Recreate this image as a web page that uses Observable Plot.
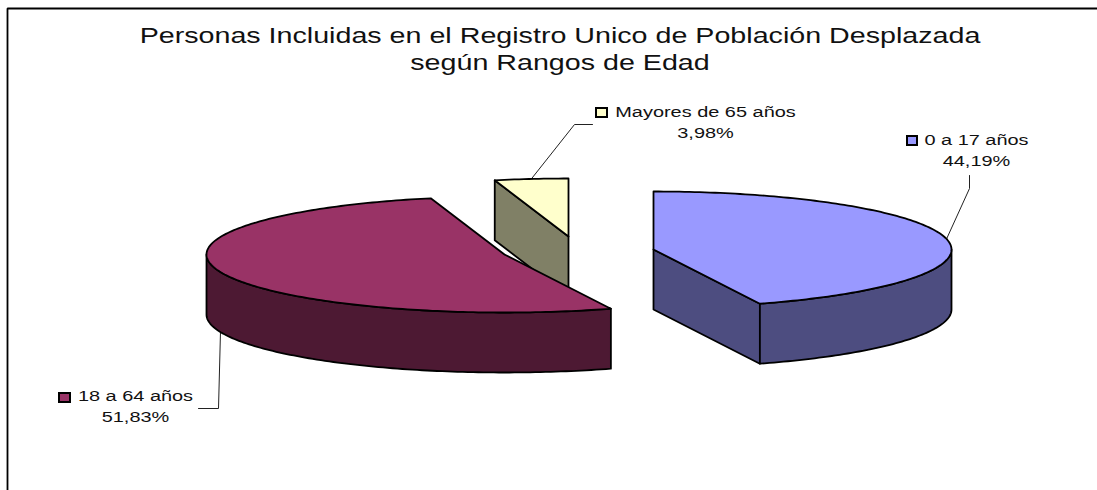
<!DOCTYPE html>
<html>
<head>
<meta charset="utf-8">
<script src="https://cdn.jsdelivr.net/npm/d3@7"></script>
<script src="https://cdn.jsdelivr.net/npm/@observablehq/plot@0.6"></script>
<style>
html,body{margin:0;padding:0;background:#fff}
svg{display:block}
</style>
</head>
<body>
<div id="chart"></div>
<script>
// Data
const categories = ["0 a 17 años", "18 a 64 años", "Mayores de 65 años"];
const shares = [44.19, 51.83, 3.98];
const shareLabels = ["44,19%", "51,83%", "3,98%"];
const titleLines = ["Personas Incluidas en el Registro Unico de Población Desplazada", "según Rangos de Edad"];

// Styles
const topColors = ["#9999FF", "#993366", "#FFFFCC"];
const wallColors = ["#4D4D80", "#4D1933", "#808066"];

// Layout of the exploded pie (plot units = pixels)
const W = 1097, H = 490;
const RX = 298, RY = 58, DEPTH = 60;
const centers = [[653, 249], [504, 254], [568, 236]];
const drawOrder = [2, 1, 0];
// leader elbows and label anchors per category
const elbows = [[[969, 188], [969, 175]], [[218, 408], [198, 408]], [[574, 124], [592, 124]]];
const labelAnchors = [[976, 140], [135, 396], [705, 112]];
const keyBoxes = [[907, 136, 917, 145], [59, 393, 70, 402], [596, 108, 607, 117]];
const labelLineGap = 21;
const labelStretch = 1.285, titleStretch = 1.302; // the reference's type is wider than it is tall

// Slice angles, clockwise from 12 o'clock
const total = d3.sum(shares);
let acc = 0;
const slices = shares.map((s, i) => {
  const a0 = acc / total * 2 * Math.PI;
  acc += s;
  const a1 = acc / total * 2 * Math.PI;
  return {i, a0, a1, c: centers[i]};
});
const at = (s, a, dz = 0) => ({
  x: s.c[0] + RX * Math.sin(a),
  y: s.c[1] - RY * Math.cos(a) + dz
});
const arc = (s, a0, a1, dz = 0) => {
  const n = Math.max(2, Math.ceil(Math.abs(a1 - a0) / (Math.PI / 180)));
  return d3.range(n + 1).map(k => at(s, a0 + (a1 - a0) * k / n, dz));
};
const hub = (s, dz = 0) => ({x: s.c[0], y: s.c[1] + dz});
const close = pts => [...pts, pts[0]];

const polys = [];
for (const k of drawOrder) {
  const s = slices[k];
  const fl = Math.PI / 2, fr = 3 * Math.PI / 2;
  // visible cut faces
  if (s.a1 > 0 && Math.sin(s.a1) > 0 && s.a1 < Math.PI) {
    polys.push({fill: wallColors[k], pts: close([hub(s), at(s, s.a1), at(s, s.a1, DEPTH), hub(s, DEPTH)])});
  }
  if (Math.sin(s.a0) < 0) {
    polys.push({fill: wallColors[k], pts: close([hub(s), at(s, s.a0), at(s, s.a0, DEPTH), hub(s, DEPTH)])});
  }
  // outer wall: the arc part on the front half
  const w0 = Math.max(s.a0, fl), w1 = Math.min(s.a1, fr);
  if (w1 > w0) {
    polys.push({fill: wallColors[k], pts: close([...arc(s, w0, w1), ...arc(s, w1, w0, DEPTH)])});
  }
  // top face
  polys.push({fill: topColors[k], pts: close([hub(s), ...arc(s, s.a0, s.a1)])});
}

const leaders = slices.map(s => {
  const mid = (s.a0 + s.a1) / 2;
  const front = Math.cos(mid) < 0;
  return [at(s, mid, front ? DEPTH : 0), ...elbows[s.i].map(([x, y]) => ({x, y}))];
});

const labelRows = categories.flatMap((c, i) => [
  {x: labelAnchors[i][0], y: labelAnchors[i][1], t: c},
  {x: labelAnchors[i][0], y: labelAnchors[i][1] + labelLineGap, t: shareLabels[i]}
]);
const keys = keyBoxes.map((b, i) => ({x1: b[0], y1: b[1], x2: b[2], y2: b[3], fill: topColors[i]}));
const titleRows = titleLines.map((t, i) => ({t, x: 559.5, y: 35 + i * 27}));

const FONT = "'Liberation Sans', Arial, sans-serif";
const chart = Plot.plot({
  width: W, height: H,
  margin: 0,
  style: {background: "#fff", fontFamily: FONT},
  x: {domain: [0, W], range: [0, W], axis: null},
  y: {domain: [0, H], range: [0, H], axis: null},
  marks: [
    Plot.line([{x: 7, y: H}, {x: 7, y: 8}, {x: W, y: 8}], {x: "x", y: "y", stroke: "black", strokeWidth: 1.8, strokeLinejoin: "miter"}),
    ...leaders.map(l => Plot.line(l, {x: "x", y: "y", stroke: "#222", strokeWidth: 1})),
    ...polys.map(p => Plot.line(p.pts, {x: "x", y: "y", fill: p.fill, stroke: "black", strokeWidth: 1.8, strokeLinejoin: "round"})),
    Plot.rect(keys, {x1: "x1", x2: "x2", y1: "y1", y2: "y2", fill: "fill", stroke: "black", strokeWidth: 2}),
    Plot.text(labelRows, {x: "x", y: "y", text: "t", fontSize: 15.5, fill: "#111", textAnchor: "middle", fontFamily: FONT}),
    Plot.text(titleRows, {x: "x", y: "y", text: "t", fontSize: 22, fill: "#111", textAnchor: "middle", fontFamily: FONT})
  ]
});
document.getElementById("chart").appendChild(chart);
chart.querySelectorAll("text").forEach(t => {
  const k = titleLines.includes(t.textContent) ? titleStretch : labelStretch;
  t.setAttribute("textLength", t.getComputedTextLength() * k);
  t.setAttribute("lengthAdjust", "spacingAndGlyphs");
});
</script>
</body>
</html>
